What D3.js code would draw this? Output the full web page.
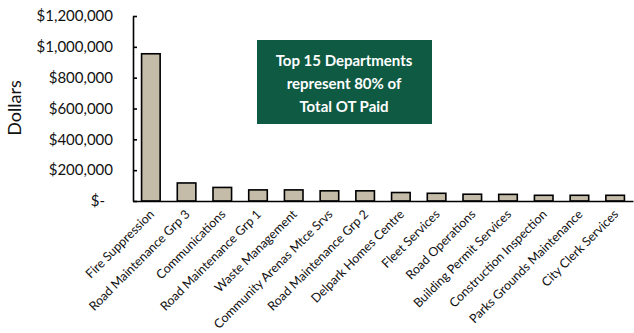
<!DOCTYPE html>
<html>
<head>
<meta charset="utf-8">
<script src="https://cdn.jsdelivr.net/npm/d3@7"></script>
<style>
  html, body { margin: 0; padding: 0; background: #fff; }
  svg { display: block; }
</style>
</head>
<body>
<svg id="chart" width="634" height="333"></svg>
<script>
// Overtime paid by department (top departments)
const departments = [
  "Fire Suppression", "Road Maintenance Grp 3", "Communications",
  "Road Maintenance Grp 1", "Waste Management", "Community Arenas Mtce Srvs",
  "Road Maintenance Grp 2", "Delpark Homes Centre", "Fleet Services",
  "Road Operations", "Building Permit Services", "Construction Inspection",
  "Parks Grounds Maintenance", "City Clerk Services"
];
const otPaid = [
  955000, 117000, 88000, 72000, 72000, 66000, 66000,
  55000, 50000, 44000, 43000, 37000, 37000, 37000
];
const yTicks = [0, 200000, 400000, 600000, 800000, 1000000, 1200000];
const yTitle = "Dollars";
const noteLines = ["Top 15 Departments", "represent 80% of", "Total OT Paid"];

const svg = d3.select("#chart");
const font = "Lato, 'Open Sans', sans-serif";
const plot = { left: 133, right: 633, top: 16, bottom: 201 };

const x = d3.scaleBand().domain(departments).range([plot.left, plot.right])
  .paddingInner(0.48).paddingOuter(0.24);
const y = d3.scaleLinear().domain([0, 1200000]).range([plot.bottom, plot.top]);

const fmt = v => v === 0 ? "$-" : "$" + d3.format(",")(v);

// Bars
svg.append("g").selectAll("rect").data(otPaid).join("rect")
  .attr("x", (d, i) => x(departments[i]))
  .attr("y", d => y(d))
  .attr("width", x.bandwidth())
  .attr("height", d => y(0) - y(d))
  .attr("fill", "#c4bca8")
  .attr("stroke", "#000")
  .attr("stroke-width", 1.6);

// Y axis with inward ticks
const yAxis = svg.append("g").attr("transform", `translate(${plot.left},0)`)
  .call(d3.axisLeft(y).tickValues(yTicks).tickSize(-4).tickSizeOuter(0).tickFormat(fmt).tickPadding(20));
yAxis.select(".domain").attr("stroke", "#000").attr("stroke-width", 1.6);
yAxis.selectAll(".tick line").attr("stroke", "#000").attr("stroke-width", 1.6);
yAxis.selectAll(".tick text")
  .attr("font-family", font).attr("font-size", 15).attr("fill", "#111")
  .attr("dx", d => d === 0 ? -8 : 0);

// X axis baseline
const xAxis = svg.append("g").attr("transform", `translate(0,${plot.bottom})`)
  .call(d3.axisBottom(x).tickSize(0).tickSizeOuter(0).tickPadding(0));
xAxis.select(".domain").attr("stroke", "#000").attr("stroke-width", 1.6);
xAxis.selectAll(".tick text")
  .attr("font-family", font).attr("font-size", 12.5).attr("fill", "#111")
  .attr("text-anchor", "end")
  .attr("dy", 0)
  .attr("transform", "translate(4,14) rotate(-45)");

// Axis title
svg.append("text")
  .attr("transform", `translate(21,108) rotate(-90)`)
  .attr("text-anchor", "middle")
  .attr("font-family", font).attr("font-size", 18).attr("fill", "#111")
  .text(yTitle);

// Annotation box
svg.append("rect")
  .attr("x", 257).attr("y", 40).attr("width", 175).attr("height", 84)
  .attr("fill", "#0e5a42");
svg.append("g").selectAll("text").data(noteLines).join("text")
  .attr("x", 344).attr("y", (d, i) => 66 + i * 23)
  .attr("text-anchor", "middle")
  .attr("font-family", font).attr("font-weight", "bold").attr("font-size", 15)
  .attr("fill", "#fff")
  .text(d => d);
</script>
</body>
</html>
